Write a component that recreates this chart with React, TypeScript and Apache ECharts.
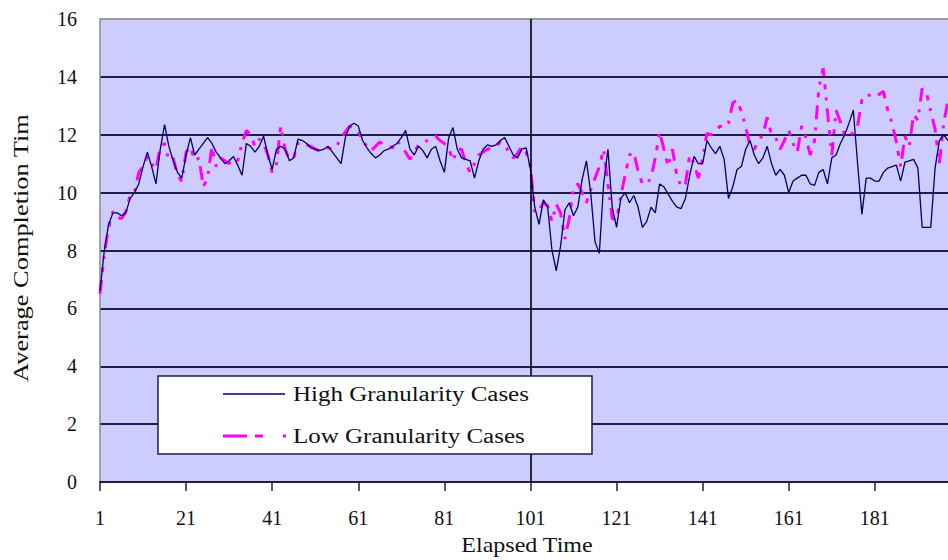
import React, { useEffect, useRef } from "react";
import * as echarts from "echarts";

// Elapsed time steps shown on the category axis (1 .. 198)
const elapsed: string[] = Array.from({ length: 198 }, (_, i) => String(i + 1));

// Average completion time, high granularity cases
const highGranularity: number[] = [
  6.6, 8.0, 8.9, 9.3, 9.3, 9.2, 9.3, 9.8, 10.0, 10.3,
  10.9, 11.4, 10.9, 10.3, 11.5, 12.35, 11.6, 11.1, 10.7, 10.5,
  11.3, 11.9, 11.3, 11.5, 11.7, 11.9, 11.7, 11.4, 11.2, 11.0,
  11.1, 11.25, 10.95, 10.6, 11.7, 11.6, 11.4, 11.6, 11.95, 11.3,
  10.8, 11.5, 11.6, 11.5, 11.1, 11.2, 11.85, 11.8, 11.7, 11.55,
  11.5, 11.45, 11.5, 11.6, 11.4, 11.2, 11.0, 11.9, 12.3, 12.4,
  12.3, 11.8, 11.55, 11.35, 11.2, 11.3, 11.45, 11.5, 11.6, 11.7,
  11.9, 12.15, 11.5, 11.3, 11.6, 11.45, 11.2, 11.5, 11.6, 11.1,
  10.7, 11.9, 12.25, 11.5, 11.2, 11.15, 11.1, 10.5, 11.1, 11.5,
  11.65, 11.6, 11.65, 11.8, 11.9, 11.6, 11.3, 11.2, 11.5, 11.55,
  10.8, 9.5, 8.9, 9.75, 9.5, 8.0, 7.3, 8.15, 9.4, 9.65,
  9.2, 9.5, 10.45, 11.1, 10.0, 8.3, 7.9, 10.3, 11.5, 9.5,
  8.8, 9.8, 10.0, 9.65, 9.9, 9.5, 8.8, 9.0, 9.5, 9.3,
  10.3, 10.2, 9.95, 9.7, 9.5, 9.45, 9.8, 10.6, 11.25, 11.0,
  11.0, 11.8, 11.55, 11.35, 11.6, 11.15, 9.8, 10.2, 10.8, 10.9,
  11.5, 11.8, 11.3, 11.0, 11.2, 11.6, 11.0, 10.6, 10.8, 10.6,
  10.0, 10.4, 10.5, 10.6, 10.6, 10.3, 10.25, 10.7, 10.8, 10.3,
  11.2, 11.3, 11.7, 12.0, 12.4, 12.85, 11.0, 9.25, 10.5, 10.5,
  10.4, 10.4, 10.7, 10.85, 10.9, 10.95, 10.4, 11.05, 11.1, 11.15,
  10.85, 8.8, 8.8, 8.8, 10.85, 11.8, 12.0, 11.8,
];

// Average completion time, low granularity cases
const lowGranularity: number[] = [
  6.5, 7.9, 8.8, 9.35, 9.15, 9.1, 9.35, 9.9, 10.0, 10.7,
  10.9, 11.25, 11.0, 10.8, 11.6, 11.7, 11.1, 11.2, 10.6, 10.4,
  11.4, 11.6, 11.1, 11.2, 10.2, 10.5, 11.6, 10.9, 11.2, 11.1,
  11.0, 11.2, 11.1, 11.7, 12.15, 12.0, 11.6, 11.85, 11.7, 11.3,
  10.7, 11.0, 12.3, 11.5, 11.15, 11.2, 11.7, 11.75, 11.65, 11.6,
  11.5, 11.45, 11.5, 11.55, 11.5, 11.6, 11.9, 12.1, 12.3, 12.2,
  12.1, 11.8, 11.6, 11.45, 11.6, 11.75, 11.65, 11.6, 11.55, 11.8,
  11.6, 11.4, 11.15, 11.4, 11.65, 11.7, 11.8, 11.9, 11.95, 11.8,
  11.7, 11.55, 11.1, 11.5, 11.5, 11.0, 10.7, 11.0, 11.3, 11.4,
  11.5, 11.55, 11.6, 11.75, 11.65, 11.4, 11.2, 11.35, 11.6, 11.4,
  10.9, 9.3, 9.4, 9.65, 9.55, 9.0, 9.6, 9.3, 8.4, 9.1,
  10.2, 10.3, 10.0, 9.65, 10.1, 10.5, 10.9, 11.5, 10.3, 9.1,
  9.05, 9.9, 10.6, 11.3, 11.4, 10.75, 10.3, 10.3, 10.5, 11.2,
  12.1, 11.5, 10.9, 11.5, 10.6, 10.2, 10.3, 11.3, 11.0, 10.5,
  11.2, 12.05, 12.0, 12.1, 12.3, 12.25, 12.4, 13.1, 13.2, 12.8,
  12.3, 11.6, 11.5, 11.8, 12.0, 12.6, 12.0, 11.9, 11.5, 11.8,
  12.15, 11.7, 11.4, 12.3, 11.9, 11.3, 11.8, 13.6, 14.3, 12.8,
  11.3, 12.85, 12.45, 12.0, 11.9, 12.1, 12.3, 13.2, 13.4, 13.35,
  13.3, 13.4, 13.5, 12.85, 12.4, 11.75, 10.9, 11.95, 11.6, 12.7,
  12.5, 13.6, 13.45, 12.8, 12.2, 11.0, 12.4, 13.2,
];

const seriesNames = ["High Granularity Cases", "Low Granularity Cases"];
const yAxisTitle = "Average Completion Tim";
const xAxisTitle = "Elapsed Time";

const SERIF = "'Liberation Serif', 'Times New Roman', serif";
const NAVY = "#000066";
const MAGENTA = "#FF00FF";
const GRID_LINE = "#1e1e46";

export default function App() {
  const ref = useRef<HTMLDivElement>(null);

  useEffect(() => {
    if (!ref.current) return;
    const chart = echarts.init(ref.current, undefined, { renderer: "svg" });

    chart.setOption({
      animation: false,
      backgroundColor: "#ffffff",
      grid: {
        left: 100,
        right: 0,
        top: 19,
        bottom: 78,
        show: true,
        backgroundColor: "#CCCCFF",
        borderWidth: 0,
      },
      xAxis: {
        type: "category",
        data: elapsed,
        boundaryGap: false,
        axisLine: { lineStyle: { color: GRID_LINE, width: 1.8 } },
        axisTick: {
          interval: 19,
          length: 9,
          lineStyle: { color: GRID_LINE, width: 1.5 },
        },
        axisLabel: {
          interval: 19,
          margin: 26,
          color: "#111",
          fontFamily: SERIF,
          fontSize: 20,
        },
        splitLine: { show: false },
      },
      yAxis: {
        type: "value",
        min: 0,
        max: 16,
        interval: 2,
        axisLine: { show: true, lineStyle: { color: "#8a8a8a", width: 1.5 } },
        axisTick: { show: false },
        axisLabel: {
          margin: 23,
          color: "#111",
          fontFamily: SERIF,
          fontSize: 20,
        },
        splitLine: {
          show: true,
          lineStyle: {
            width: 1.8,
            color: [
              GRID_LINE, GRID_LINE, GRID_LINE, GRID_LINE, GRID_LINE,
              GRID_LINE, GRID_LINE, GRID_LINE, "#9a9a9a",
            ],
          },
        },
      },
      series: [
        {
          name: seriesNames[0],
          type: "line",
          data: highGranularity,
          symbol: "none",
          lineStyle: { color: NAVY, width: 1.3 },
          z: 3,
          markLine: {
            silent: true,
            symbol: "none",
            label: { show: false },
            lineStyle: { color: "#000", width: 1.6, type: "solid" },
            data: [{ xAxis: "101" }],
          },
        },
        {
          name: seriesNames[1],
          type: "line",
          data: lowGranularity,
          symbol: "none",
          lineStyle: {
            color: MAGENTA,
            width: 3,
            type: [14, 8, 5, 8, 3, 8],
          },
          z: 2,
        },
      ],
      graphic: [
        // axis titles
        {
          type: "text",
          x: 21,
          y: 248,
          rotation: Math.PI / 2,
          scaleX: 1.32,
          style: {
            text: yAxisTitle,
            font: `20px ${SERIF}`,
            fill: "#111",
            textAlign: "center",
            textVerticalAlign: "middle",
          },
        },
        {
          type: "text",
          x: 527,
          y: 545,
          scaleX: 1.2,
          style: {
            text: xAxisTitle,
            font: `20px ${SERIF}`,
            fill: "#111",
            textAlign: "center",
            textVerticalAlign: "middle",
          },
        },
        // legend box
        {
          type: "rect",
          z: 10,
          shape: { x: 158, y: 376, width: 434, height: 78 },
          style: { fill: "#ffffff", stroke: GRID_LINE, lineWidth: 1.5 },
        },
        {
          type: "line",
          z: 11,
          shape: { x1: 223, y1: 394, x2: 285, y2: 394 },
          style: { stroke: NAVY, lineWidth: 1.5 },
        },
        {
          type: "line",
          z: 11,
          shape: { x1: 223, y1: 436, x2: 287, y2: 436 },
          style: {
            stroke: MAGENTA,
            lineWidth: 3,
            lineDash: [24, 8, 8, 20, 3, 100],
          },
        },
        {
          type: "text",
          z: 11,
          x: 293,
          y: 394,
          scaleX: 1.25,
          style: {
            text: seriesNames[0],
            font: `20px ${SERIF}`,
            fill: "#111",
            textAlign: "left",
            textVerticalAlign: "middle",
          },
        },
        {
          type: "text",
          z: 11,
          x: 293,
          y: 436,
          scaleX: 1.25,
          style: {
            text: seriesNames[1],
            font: `20px ${SERIF}`,
            fill: "#111",
            textAlign: "left",
            textVerticalAlign: "middle",
          },
        },
      ],
    });

    return () => chart.dispose();
  }, []);

  return (
    <div
      ref={ref}
      style={{ position: "absolute", left: 0, top: 0, width: 948, height: 560 }}
    />
  );
}
